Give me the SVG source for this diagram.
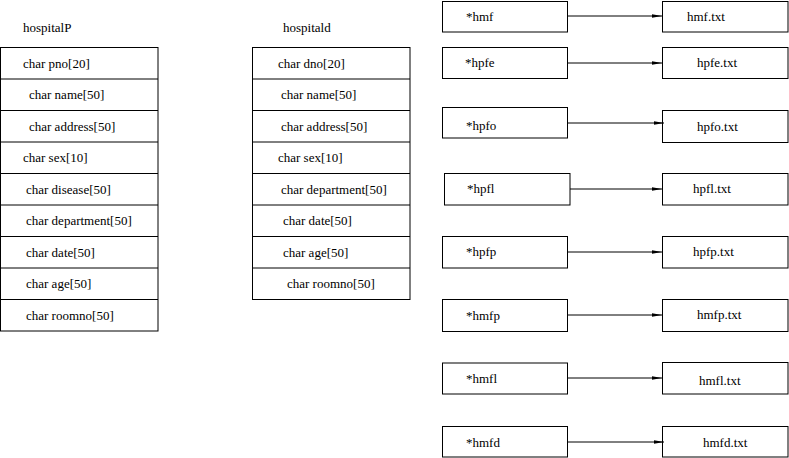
<svg xmlns="http://www.w3.org/2000/svg" width="789" height="458" viewBox="0 0 789 458">
<style>
rect{fill:#fff;stroke:#000;stroke-width:1}
line.r{stroke:#000;stroke-width:1}
text{font-family:"Liberation Serif","Times New Roman",serif;font-size:13px;fill:#000}
.c{stroke:#000;stroke-width:1;fill:none}
</style>
<defs>
<marker id="ah" markerWidth="10" markerHeight="5" refX="10" refY="2.5" orient="auto" markerUnits="userSpaceOnUse">
<path d="M0,0.8 L10,2.5 L0,4.2 Z" fill="#000"/>
</marker>
</defs>
<rect width="789" height="458" style="stroke:none"/>

<g id="hospitalP">
<text x="23" y="32">hospitalP</text>
<rect x="0.5" y="47.5" width="157.5" height="283.5"/>
<line class="r" x1="0.5" y1="79" x2="158" y2="79"/>
<line class="r" x1="0.5" y1="110.5" x2="158" y2="110.5"/>
<line class="r" x1="0.5" y1="142" x2="158" y2="142"/>
<line class="r" x1="0.5" y1="173.5" x2="158" y2="173.5"/>
<line class="r" x1="0.5" y1="205" x2="158" y2="205"/>
<line class="r" x1="0.5" y1="236.5" x2="158" y2="236.5"/>
<line class="r" x1="0.5" y1="268" x2="158" y2="268"/>
<line class="r" x1="0.5" y1="299.5" x2="158" y2="299.5"/>
<text x="23" y="67.5">char pno[20]</text>
<text x="29" y="99">char name[50]</text>
<text x="29" y="130.5">char address[50]</text>
<text x="23" y="162">char sex[10]</text>
<text x="26" y="193.5">char disease[50]</text>
<text x="26" y="225">char department[50]</text>
<text x="26" y="256.5">char date[50]</text>
<text x="26" y="288">char age[50]</text>
<text x="26" y="319.5">char roomno[50]</text>
</g>

<g id="hospitald">
<text x="283" y="32">hospitald</text>
<rect x="252.5" y="47.5" width="157.5" height="252"/>
<line class="r" x1="252.5" y1="79" x2="410" y2="79"/>
<line class="r" x1="252.5" y1="110.5" x2="410" y2="110.5"/>
<line class="r" x1="252.5" y1="142" x2="410" y2="142"/>
<line class="r" x1="252.5" y1="173.5" x2="410" y2="173.5"/>
<line class="r" x1="252.5" y1="205" x2="410" y2="205"/>
<line class="r" x1="252.5" y1="236.5" x2="410" y2="236.5"/>
<line class="r" x1="252.5" y1="268" x2="410" y2="268"/>
<text x="278" y="67.5">char dno[20]</text>
<text x="281" y="99">char name[50]</text>
<text x="281" y="130.5">char address[50]</text>
<text x="278" y="162">char sex[10]</text>
<text x="281" y="193.5">char department[50]</text>
<text x="283" y="225">char date[50]</text>
<text x="283" y="256.5">char age[50]</text>
<text x="287" y="288">char roomno[50]</text>
</g>

<g id="hmf"><rect x="442.5" y="1.5" width="125" height="30.5"/><text x="466" y="21">*hmf</text></g>
<g id="hmf_txt"><rect x="662.5" y="1.5" width="125.5" height="30.5"/><text x="687" y="21">hmf.txt</text></g>
<g id="hpfe"><rect x="442.5" y="47.5" width="125" height="31"/><text x="465" y="67">*hpfe</text></g>
<g id="hpfe_txt"><rect x="662.5" y="47.5" width="125.5" height="31"/><text x="697" y="67">hpfe.txt</text></g>
<g id="hpfo"><rect x="442.5" y="107.5" width="125" height="30.5"/><text x="466" y="130">*hpfo</text></g>
<g id="hpfo_txt"><rect x="662.5" y="110.5" width="125.5" height="32"/><text x="697" y="131">hpfo.txt</text></g>
<g id="hpfl"><rect x="444.5" y="173.5" width="125.5" height="31.5"/><text x="467" y="193">*hpfl</text></g>
<g id="hpfl_txt"><rect x="662.5" y="173.5" width="125.5" height="31.5"/><text x="693" y="193">hpfl.txt</text></g>
<g id="hpfp"><rect x="442.5" y="236.5" width="125" height="31.5"/><text x="466" y="256">*hpfp</text></g>
<g id="hpfp_txt"><rect x="662.5" y="236.5" width="125.5" height="31.5"/><text x="693" y="256">hpfp.txt</text></g>
<g id="hmfp"><rect x="442.5" y="299.5" width="125" height="32"/><text x="466" y="320">*hmfp</text></g>
<g id="hmfp_txt"><rect x="662.5" y="299.5" width="125.5" height="32"/><text x="697" y="319">hmfp.txt</text></g>
<g id="hmfl"><rect x="442.5" y="363" width="125" height="31"/><text x="466" y="383">*hmfl</text></g>
<g id="hmfl_txt"><rect x="662.5" y="362.5" width="125.5" height="31.5"/><text x="699" y="385">hmfl.txt</text></g>
<g id="hmfd"><rect x="442.5" y="426.5" width="125" height="30.5"/><text x="466" y="447">*hmfd</text></g>
<g id="hmfd_txt"><rect x="662.5" y="426.5" width="125.5" height="30.5"/><text x="703" y="447">hmfd.txt</text></g>

<g id="connectors">
<line class="c" x1="567.5" y1="16" x2="662" y2="16" marker-end="url(#ah)"/>
<line class="c" x1="567.5" y1="63" x2="662" y2="63" marker-end="url(#ah)"/>
<line class="c" x1="567.5" y1="123" x2="664" y2="123" marker-end="url(#ah)"/>
<line class="c" x1="570" y1="189" x2="662" y2="189" marker-end="url(#ah)"/>
<line class="c" x1="567.5" y1="252" x2="662" y2="252" marker-end="url(#ah)"/>
<line class="c" x1="567.5" y1="315" x2="662" y2="315" marker-end="url(#ah)"/>
<line class="c" x1="567.5" y1="378" x2="662" y2="378" marker-end="url(#ah)"/>
<line class="c" x1="567.5" y1="442" x2="664" y2="442" marker-end="url(#ah)"/>
</g>
</svg>
